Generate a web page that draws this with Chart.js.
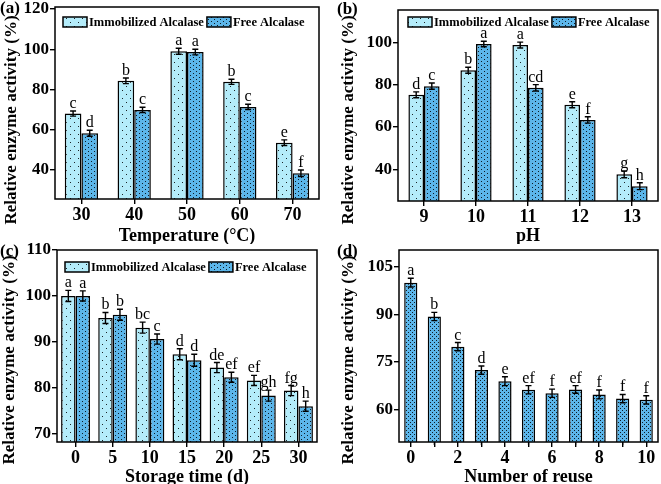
<!DOCTYPE html>
<html><head><meta charset="utf-8">
<script src="https://cdn.jsdelivr.net/npm/chart.js@4/dist/chart.umd.min.js"></script>
<style>
html,body{margin:0;padding:0;background:#fff;}
#wrap{position:relative;width:661px;height:484px;overflow:hidden;}
canvas{position:absolute;}
</style></head>
<body><div id="wrap">
<canvas id="ca" width="330" height="244" style="left:0;top:0"></canvas>
<canvas id="cb" width="331" height="244" style="left:330px;top:0"></canvas>
<canvas id="cc" width="330" height="242" style="left:0;top:242px"></canvas>
<canvas id="cd" width="331" height="242" style="left:330px;top:242px"></canvas>
</div>
<script>
// ---------- DATA ----------
const seriesNames = ['Immobilized Alcalase', 'Free Alcalase'];
const yTitle = 'Relative enzyme activity (%)';

const tempLabels = ['30', '40', '50', '60', '70'];
const tempImmob = [68.0, 84.3, 99.0, 83.8, 53.5];
const tempFree = [58.2, 69.8, 98.6, 71.3, 38.3];
const tempImmobErr = [1.3, 1.4, 1.5, 1.3, 1.4];
const tempFreeErr = [1.5, 1.3, 1.4, 1.3, 1.6];
const tempImmobSig = ['c', 'b', 'a', 'b', 'e'];
const tempFreeSig = ['d', 'c', 'a', 'c', 'f'];
const tempTicks = [40, 60, 80, 100, 120];

const phLabels = ['9', '10', '11', '12', '13'];
const phImmob = [75.2, 86.8, 98.7, 70.5, 37.6];
const phFree = [79.3, 99.2, 78.5, 63.3, 32.0];
const phImmobErr = [1.4, 1.4, 1.4, 1.4, 1.6];
const phFreeErr = [1.5, 1.3, 1.5, 1.5, 1.6];
const phImmobSig = ['d', 'b', 'a', 'e', 'g'];
const phFreeSig = ['c', 'a', 'cd', 'f', 'h'];
const phTicks = [40, 60, 80, 100];

const storageLabels = ['0', '5', '10', '15', '20', '25', '30'];
const storageImmob = [100.0, 95.2, 93.1, 87.3, 84.4, 81.6, 79.4];
const storageFree = [100.0, 95.9, 90.6, 86.0, 82.3, 78.3, 76.0];
const storageImmobErr = [1.2, 1.2, 1.2, 1.2, 1.1, 1.1, 1.1];
const storageFreeErr = [1.1, 1.2, 1.1, 1.3, 1.1, 1.2, 1.1];
const storageImmobSig = ['a', 'b', 'bc', 'd', 'de', 'ef', 'fg'];
const storageFreeSig = ['a', 'b', 'c', 'd', 'ef', 'gh', 'h'];
const storageTicks = [70, 80, 90, 100, 110];

const reuseLabels = ['0', '1', '2', '3', '4', '5', '6', '7', '8', '9', '10'];
const reuseVals = [100.0, 89.3, 79.8, 72.4, 68.9, 66.2, 65.1, 66.3, 64.7, 63.4, 63.0];
const reuseErr = [1.4, 1.3, 1.3, 1.3, 1.4, 1.3, 1.3, 1.2, 1.4, 1.3, 1.3];
const reuseSig = ['a', 'b', 'c', 'd', 'e', 'ef', 'f', 'ef', 'f', 'f', 'f'];
const reuseTicks = [60, 75, 90, 105];

// ---------- STYLE ----------
const SERIF = '"Liberation Serif", "Times New Roman", serif';
const LIGHT = '#b4ecfa';
const DARK = '#5cb6ea';

function makePattern(bg, w, h, dots) {
  const c = document.createElement('canvas');
  c.width = w; c.height = h;
  const x = c.getContext('2d');
  x.fillStyle = bg; x.fillRect(0, 0, w, h);
  x.fillStyle = 'rgba(0,0,0,0.85)';
  dots.forEach(([a, b]) => x.fillRect(a, b, 1, 1));
  return x.createPattern(c, 'repeat');
}
function pat(kind) {
  if (kind === 'light') return makePattern(LIGHT, 8, 8, [[2, 2], [6, 6]]);
  if (kind === 'dark') return makePattern(DARK, 6, 4, [[1, 1], [4, 3]]);
  return makePattern(DARK, 4, 4, [[0, 0], [2, 2]]);
}

const framePlugin = {
  id: 'extras',
  afterDatasetsDraw(chart) {
    const o = chart.options.plugins.extras;
    const ctx = chart.ctx;
    const a = chart.chartArea;
    const ys = chart.scales.y;
    ctx.save();
    // error bars & letters
    chart.data.datasets.forEach((ds, di) => {
      const meta = chart.getDatasetMeta(di);
      meta.data.forEach((bar, i) => {
        const v = ds.data[i], e = ds.errors[i];
        const yt = ys.getPixelForValue(v + e), yb = ys.getPixelForValue(v - e);
        ctx.strokeStyle = '#000'; ctx.lineWidth = 1.4;
        ctx.beginPath();
        ctx.moveTo(bar.x, yt); ctx.lineTo(bar.x, yb);
        ctx.moveTo(bar.x - 3, yt); ctx.lineTo(bar.x + 3, yt);
        ctx.moveTo(bar.x - 3, yb); ctx.lineTo(bar.x + 3, yb);
        ctx.stroke();
        ctx.fillStyle = '#000';
        ctx.font = '16px ' + SERIF;
        ctx.textAlign = 'center'; ctx.textBaseline = 'alphabetic';
        ctx.fillText(ds.sig[i], bar.x, yt - 3);
      });
    });
    // frame
    ctx.strokeStyle = '#000'; ctx.lineWidth = 1.5;
    ctx.strokeRect(a.left, a.top, a.right - a.left, a.bottom - a.top);
    // minor ticks
    if (o.minor) {
      const xs = chart.scales.x;
      ctx.lineWidth = 1.2;
      chart.data.labels.forEach((l, i) => {
        if (i % 2 === 1) {
          const px = xs.getPixelForValue(i);
          ctx.beginPath(); ctx.moveTo(px, a.bottom); ctx.lineTo(px, a.bottom + 3); ctx.stroke();
        }
      });
    }
    // legend
    if (o.legend) {
      ctx.textAlign = 'left'; ctx.textBaseline = 'middle';
      ctx.font = 'bold 12.5px ' + SERIF;
      let x = a.left + o.legend.dx;
      const yc = a.top + o.legend.dy;
      chart.data.datasets.forEach((ds) => {
        ctx.fillStyle = ds.backgroundColor;
        ctx.fillRect(x, yc - 5, 24, 10);
        ctx.lineWidth = 1.5; ctx.strokeStyle = '#000';
        ctx.strokeRect(x, yc - 5, 24, 10);
        ctx.fillStyle = '#000';
        ctx.fillText(ds.label, x + 26, yc + 1);
        x += 26 + ctx.measureText(ds.label).width + o.legend.gap;
      });
    }
    // y axis title
    ctx.save();
    ctx.translate(o.tx, o.ty);
    ctx.rotate(-Math.PI / 2);
    ctx.font = 'bold 17px ' + SERIF;
    ctx.fillStyle = '#000'; ctx.textAlign = 'center'; ctx.textBaseline = 'middle';
    ctx.fillText(yTitle, 0, 0);
    ctx.restore();
    // panel label
    ctx.font = 'bold 17px ' + SERIF;
    ctx.fillStyle = '#000'; ctx.textAlign = 'left'; ctx.textBaseline = 'middle';
    ctx.fillText(o.panel, o.px, o.py);
    ctx.restore();
  }
};

function makeChart(id, cfg) {
  const cv = document.getElementById(id);
  const W = cv.width, H = cv.height;
  const tickColor = '#000';
  return new Chart(cv, {
    type: 'bar',
    data: { labels: cfg.labels, datasets: cfg.datasets },
    options: {
      responsive: false, animation: false, devicePixelRatio: 1,
      layout: { padding: { left: 0, top: cfg.top, right: W - cfg.right, bottom: 0 } },
      plugins: { legend: { display: false }, tooltip: { enabled: false },
        extras: { legend: cfg.legend, panel: cfg.panel, px: cfg.px, py: cfg.py, minor: cfg.minor, tx: cfg.tx, ty: cfg.ty } },
      datasets: { bar: { categoryPercentage: cfg.cat, barPercentage: 1, borderColor: '#000', borderWidth: 1.5 } },
      scales: {
        x: {
          offset: true,
          grid: { offset: false, drawOnChartArea: false, drawTicks: true, tickLength: 5, color: tickColor, lineWidth: 1.4 },
          border: { display: false },
          ticks: { color: '#000', font: { family: SERIF, size: 18, weight: 'bold' }, padding: 1, maxRotation: 0, autoSkip: false,
            callback: cfg.xcb || function (v, i) { return this.getLabelForValue(v); } },
          title: { display: true, text: cfg.xtitle, color: '#000', font: { family: SERIF, size: 18, weight: 'bold' }, padding: { top: 0, bottom: cfg.xpb } },
          afterFit(s) { s.height = H - cfg.bottom; s.paddingLeft = 0; s.paddingRight = 0; }
        },
        y: {
          min: cfg.min, max: cfg.max,
          afterBuildTicks(s) { s.ticks = cfg.yticks.map(v => ({ value: v })); },
          grid: { drawOnChartArea: false, drawTicks: true, tickLength: 5, color: tickColor, lineWidth: 1.4 },
          border: { display: false },
          ticks: { color: '#000', font: { family: SERIF, size: 17, weight: 'bold' }, padding: 1 },
          title: { display: false },
          afterFit(s) { s.width = cfg.left; s.paddingTop = 0; s.paddingBottom = 0; }
        }
      }
    },
    plugins: [framePlugin]
  });
}

const pL = pat('light'), pD = pat('dark'), pR = pat('dense');

makeChart('ca', {
  labels: tempLabels,
  datasets: [
    { label: seriesNames[0], data: tempImmob, errors: tempImmobErr, sig: tempImmobSig, backgroundColor: pL },
    { label: seriesNames[1], data: tempFree, errors: tempFreeErr, sig: tempFreeSig, backgroundColor: pD }
  ],
  left: 55, right: 319, top: 7, bottom: 199, min: 25.5, max: 121, yticks: tempTicks, cat: 0.63,
  xtitle: 'Temperature (°C)', xpb: -3,
  legend: { dx: 8, dy: 15, gap: 3 }, panel: '(a)', px: 0, py: 9, tx: 12, ty: 120
});
makeChart('cb', {
  labels: phLabels,
  datasets: [
    { label: seriesNames[0], data: phImmob, errors: phImmobErr, sig: phImmobSig, backgroundColor: pL },
    { label: seriesNames[1], data: phFree, errors: phFreeErr, sig: phFreeSig, backgroundColor: pD }
  ],
  left: 68, right: 328, top: 10, bottom: 201, min: 25, max: 115.3, yticks: phTicks, cat: 0.6,
  xtitle: 'pH', xpb: -3,
  legend: { dx: 10, dy: 12, gap: 3 }, panel: '(b)', px: 7, py: 10, tx: 19, ty: 120
});
makeChart('cc', {
  labels: storageLabels,
  datasets: [
    { label: seriesNames[0], data: storageImmob, errors: storageImmobErr, sig: storageImmobSig, backgroundColor: pL },
    { label: seriesNames[1], data: storageFree, errors: storageFreeErr, sig: storageFreeSig, backgroundColor: pD }
  ],
  left: 57, right: 317, top: 8, bottom: 200, min: 68.2, max: 110, yticks: storageTicks, cat: 0.78,
  xtitle: 'Storage time (d)', xpb: -4,
  legend: { dx: 8, dy: 17, gap: 3 }, panel: '(c)', px: 0, py: 10, tx: 10, ty: 118
});
makeChart('cd', {
  labels: reuseLabels,
  datasets: [
    { label: 'Alcalase', data: reuseVals, errors: reuseErr, sig: reuseSig, backgroundColor: pR }
  ],
  left: 69, right: 328, top: 8, bottom: 200, min: 49.7, max: 110.3, yticks: reuseTicks, cat: 0.56,
  xtitle: 'Number of reuse', xpb: -4, minor: true,
  xcb: function (v, i) { return i % 2 === 0 ? this.getLabelForValue(v) : ''; },
  legend: null, panel: '(d)', px: 7, py: 10, tx: 19, ty: 118
});
</script>
</body></html>
